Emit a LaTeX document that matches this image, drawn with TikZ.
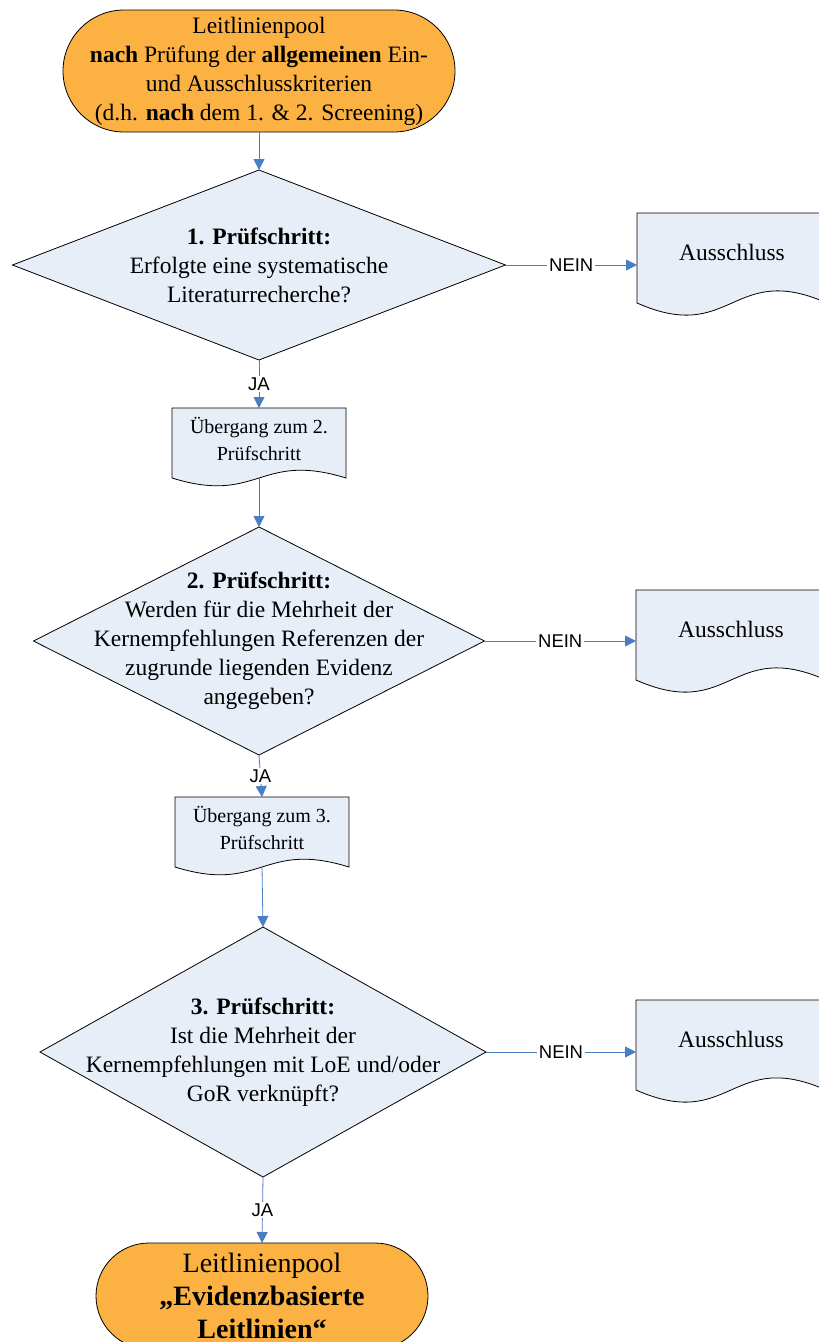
\documentclass[tikz,border=0pt]{standalone}
\usepackage{fontspec}
\setmainfont{Liberation Serif}
\newfontfamily\sansfont{Liberation Sans}
\usetikzlibrary{shapes.geometric,arrows.meta,backgrounds}
\definecolor{poolorange}{RGB}{251,178,66}
\definecolor{stepblue}{RGB}{232,238,248}
\definecolor{arrowblue}{RGB}{74,126,196}
\newcommand{\docoutline}[3]{%
  \draw[line width=0.8pt,fill=stepblue] (#1.north west) -- (#1.north east)
    -- ([yshift=-#2pt]#1.south east)
    .. controls ([yshift={#3pt-#2pt}]#1.south) and ([yshift={-#3pt-#2pt}]#1.south) ..
    ([yshift=-#2pt]#1.south west) -- cycle;}

\begin{document}
\begin{tikzpicture}[x=1pt,y=-1pt,
  pool/.style={rectangle,rounded corners=#1,draw,line width=0.8pt,fill=poolorange,align=center,inner sep=0pt,outer sep=0pt},
  check/.style={diamond,draw,line width=0.8pt,fill=stepblue,inner sep=0pt,outer sep=0pt},
  checktext/.style={align=center,inner sep=0pt,font=\fontsize{23.5}{29}\selectfont},
  docbox/.style={rectangle,inner sep=0pt,outer sep=0pt,align=center},
  arr/.style={draw=arrowblue,line width=0.8pt,-{Triangle[length=11pt,width=11pt]}},
  yesno/.style={fill=white,inner sep=2pt,font=\sansfont\fontsize{18.5}{20}\selectfont}]
\useasboundingbox (0,0) rectangle (819,1342);
\node[pool=61pt,minimum width=392pt,minimum height=122pt,font=\fontsize{23.5}{29}\selectfont] (top) at (259,71)
  {Leitlinienpool\\ \textbf{nach} Prüfung der \textbf{allgemeinen} Ein-\\ und Ausschlusskriterien\\ (d.h. \textbf{nach} dem 1. \& 2. Screening)};
\node[check,minimum width=493pt,minimum height=190pt] (d1) at (259,265) {};
\node[checktext] (d1t) at (d1) {\textbf{1. Prüfschritt:}\\ Erfolgte eine systematische\\ Literaturrecherche?};
\node[docbox,minimum width=190pt,minimum height=78pt,font=\fontsize{23.5}{29}\selectfont] (aus1) at (732,252) {Ausschluss};
\node[docbox,minimum width=174pt,minimum height=61pt,font=\fontsize{20}{27}\selectfont] (u1) at (259,438.5) {Übergang zum 2.\\ Prüfschritt};
\node[check,minimum width=451pt,minimum height=228pt] (d2) at (259,641) {};
\node[checktext] (d2t) at (d2) {\textbf{2. Prüfschritt:}\\ Werden für die Mehrheit der\\ Kernempfehlungen Referenzen der\\ zugrunde liegenden Evidenz\\ angegeben?};
\node[docbox,minimum width=190pt,minimum height=78pt,font=\fontsize{23.5}{29}\selectfont] (aus2) at (731,629) {Ausschluss};
\node[docbox,minimum width=174pt,minimum height=61pt,font=\fontsize{20}{27}\selectfont] (u2) at (262,827.5) {Übergang zum 3.\\ Prüfschritt};
\node[check,minimum width=446pt,minimum height=250pt] (d3) at (263,1052) {};
\node[checktext] (d3t) at (d3) {\textbf{3. Prüfschritt:}\\ Ist die Mehrheit der\\ Kernempfehlungen mit LoE und/oder\\ GoR verknüpft?};
\node[docbox,minimum width=190pt,minimum height=78pt,font=\fontsize{23.5}{29}\selectfont] (aus3) at (731,1039) {Ausschluss};
\node[pool=53pt,minimum width=332pt,minimum height=106pt,font=\fontsize{28}{33}\selectfont] (bottom) at (262,1296)
  {Leitlinienpool\\ \textbf{„Evidenzbasierte}\\ \textbf{Leitlinien“}};
\begin{scope}[on background layer]
\docoutline{aus1}{12}{42}
\docoutline{aus2}{12}{42}
\docoutline{aus3}{12}{42}
\docoutline{u1}{9}{27}
\docoutline{u2}{9}{27}
\end{scope}
\draw[arr] (top.south) -- (d1.north);
\draw[arr] (d1.east) -- node[yesno]{NEIN} (d1.east -| aus1.west);
\draw[arr] (d1.south) -- node[yesno]{JA} (u1.north);
\draw[arr] ([yshift=-9pt]u1.south) -- (d2.north);
\draw[arr] (d2.east) -- node[yesno]{NEIN} (d2.east -| aus2.west);
\draw[arr] (d2.south) -- node[yesno]{JA} (u2.north);
\draw[arr] ([yshift=-9pt]u2.south) -- (d3.north);
\draw[arr] (d3.east) -- node[yesno]{NEIN} (d3.east -| aus3.west);
\draw[arr] (d3.south) -- node[yesno]{JA} (bottom.north);
\end{tikzpicture}
\end{document}
